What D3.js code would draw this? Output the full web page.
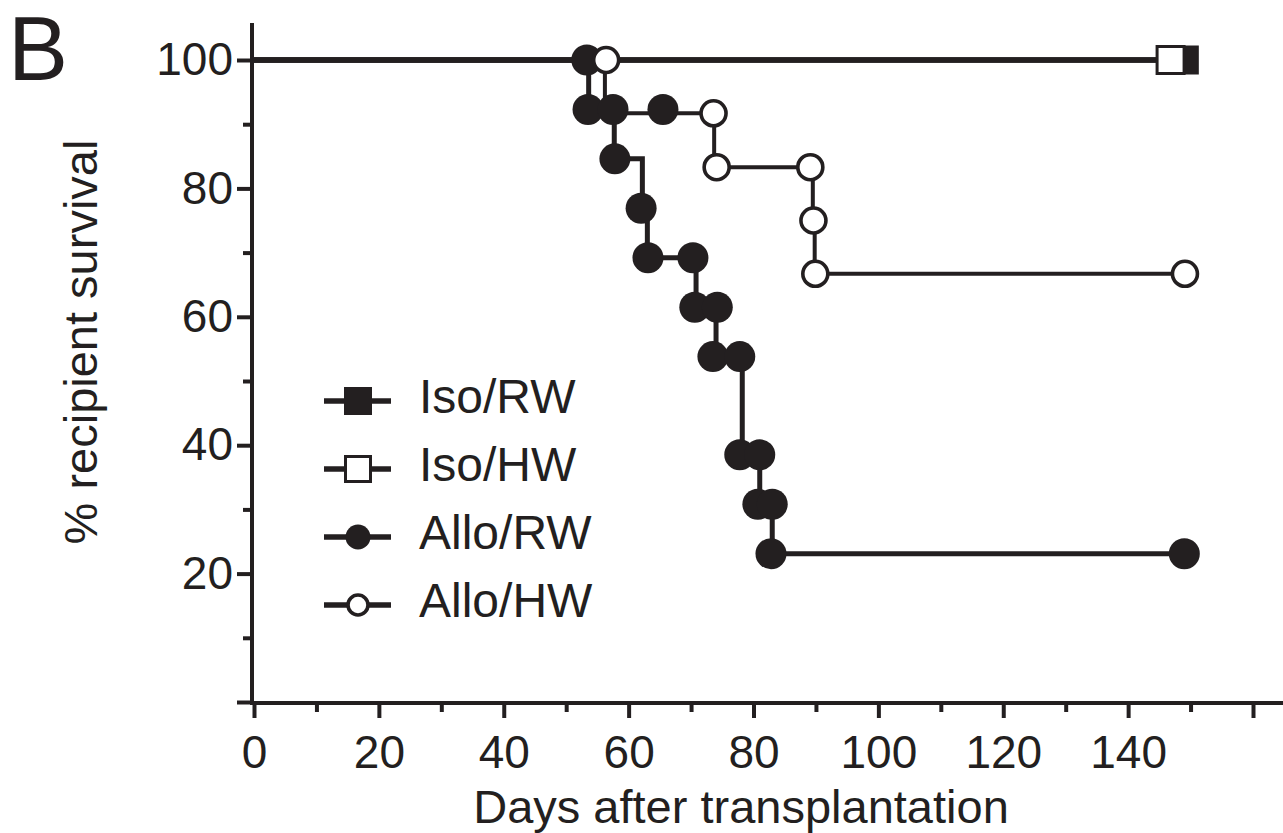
<!DOCTYPE html>
<html>
<head>
<meta charset="utf-8">
<script src="https://cdn.jsdelivr.net/npm/d3@7"></script>
<style>
  body { margin: 0; background: #fff; }
  svg text { font-family: "Liberation Sans", Arial, sans-serif; fill: #231f20; }
</style>
</head>
<body>
<div id="chart"></div>
<script>
// Kaplan-Meier steps: day each level starts at, and % survival for that level
const alloRWDays = [0, 53.6, 57.7, 62.2, 63, 70.8, 74, 78.2, 81, 83, 149];
const alloRWSurv = [100, 92.3, 84.6, 76.9, 69.2, 61.5, 53.8, 38.5, 30.8, 23.1, 23.1];
const alloHWDays = [0, 56.2, 73.7, 89.5, 89.8, 149];
const alloHWSurv = [100, 91.7, 83.3, 75, 66.7, 66.7];
const isoRWDays = [0, 149];
const isoRWSurv = [100, 100];
const isoHWDays = [0, 146.8];
const isoHWSurv = [100, 100];

// symbols as they sit on the curves
const alloRWMarkDays = [53.3, 53.5, 57.5, 65.5, 57.8, 62, 63.1, 70.3, 70.6, 74.2, 73.5, 77.8, 77.8, 81, 80.7, 83, 82.8, 149];
const alloRWMarkSurv = [100, 92.3, 92.3, 92.3, 84.6, 76.9, 69.2, 69.2, 61.5, 61.5, 53.8, 53.8, 38.5, 38.5, 30.8, 30.8, 23.1, 23.1];
const alloHWMarkDays = [56.4, 73.6, 74.1, 89.1, 89.6, 89.9, 149.1];
const alloHWMarkSurv = [100, 91.7, 83.3, 83.3, 75, 66.7, 66.7];
const isoRWMarkDays = [149];
const isoRWMarkSurv = [100];
const isoHWMarkDays = [146.8];
const isoHWMarkSurv = [100];

const legendLabels = ["Iso/RW", "Iso/HW", "Allo/RW", "Allo/HW"];
const xMajorTicks = [0, 20, 40, 60, 80, 100, 120, 140, 160];
const xMinorTicks = [10, 30, 50, 70, 90, 110, 130, 150];
const yMajorTicks = [0, 20, 40, 60, 80, 100];
const yMinorTicks = [10, 30, 50, 70, 90];

const ink = "#231f20";
const width = 1283, height = 833;

const svg = d3.select("#chart").append("svg")
  .attr("width", width)
  .attr("height", height);

const x = d3.scaleLinear().domain([0, 160]).range([254, 1253]);
const y = d3.scaleLinear().domain([0, 100]).range([702, 60]);

// series styles (same order as legend)
const series = [
  { name: "Iso/RW", days: isoRWDays, surv: isoRWSurv, mDays: isoRWMarkDays, mSurv: isoRWMarkSurv, shape: "square", filled: true, lw: 5.5 },
  { name: "Iso/HW", days: isoHWDays, surv: isoHWSurv, mDays: isoHWMarkDays, mSurv: isoHWMarkSurv, shape: "square", filled: false, lw: 5.5 },
  { name: "Allo/RW", days: alloRWDays, surv: alloRWSurv, mDays: alloRWMarkDays, mSurv: alloRWMarkSurv, shape: "circle", filled: true, lw: 5 },
  { name: "Allo/HW", days: alloHWDays, surv: alloHWSurv, mDays: alloHWMarkDays, mSurv: alloHWMarkSurv, shape: "circle", filled: false, lw: 4 },
];

// ---- axes ----
const xAxisG = svg.append("g").attr("transform", `translate(0,${y(0) + 1})`);
xAxisG.call(d3.axisBottom(x).tickValues(xMinorTicks).tickSize(9).tickFormat(""));
xAxisG.append("g").call(
  d3.axisBottom(x).tickValues(xMajorTicks).tickSize(15).tickPadding(17)
    .tickFormat((d) => (d === 160 ? "" : d))
);
xAxisG.selectAll(".domain").remove();
xAxisG.selectAll("line").attr("stroke", ink).attr("stroke-width", 4);
xAxisG.selectAll("text").attr("font-size", 46).attr("font-family", null);
xAxisG.append("line")
  .attr("x1", x(0) - 4).attr("x2", width)
  .attr("stroke", ink).attr("stroke-width", 4);

const yAxisG = svg.append("g").attr("transform", `translate(${x(0) - 2},0)`);
yAxisG.call(d3.axisLeft(y).tickValues(yMinorTicks).tickSize(9).tickFormat(""));
yAxisG.append("g").call(
  d3.axisLeft(y).tickValues(yMajorTicks).tickSize(15).tickPadding(4)
    .tickFormat((d) => (d === 0 ? "" : d))
);
yAxisG.selectAll(".domain").remove();
yAxisG.selectAll("line").attr("stroke", ink).attr("stroke-width", 4);
yAxisG.selectAll("text").attr("font-size", 46).attr("font-family", null);
yAxisG.append("line")
  .attr("y1", 23).attr("y2", y(0) + 3)
  .attr("stroke", ink).attr("stroke-width", 4);

// ---- titles ----
svg.append("text")
  .attr("x", 741).attr("y", 823)
  .attr("text-anchor", "middle")
  .attr("font-size", 47)
  .text("Days after transplantation");

svg.append("text")
  .attr("transform", "translate(97,342) rotate(-90)")
  .attr("text-anchor", "middle")
  .attr("font-size", 47)
  .text("% recipient survival");

svg.append("text")
  .attr("x", 8).attr("y", 80)
  .attr("font-size", 90)
  .text("B");

// ---- survival curves ----
const step = d3.line()
  .x((d) => x(d[0]))
  .y((d) => y(d[1]))
  .curve(d3.curveStepAfter);

series.forEach((s) => {
  svg.append("path")
    .datum(d3.zip(s.days, s.surv))
    .attr("d", step)
    .attr("fill", "none")
    .attr("stroke", ink)
    .attr("stroke-width", s.lw);
});

function drawMark(g, shape, filled, cx, cy, big) {
  if (shape === "circle") {
    const r = filled ? (big ? 15.5 : 12.5) : (big ? 12.5 : 10);
    g.append("circle")
      .attr("cx", cx).attr("cy", cy).attr("r", r)
      .attr("fill", filled ? ink : "#fff")
      .attr("stroke", ink)
      .attr("stroke-width", filled ? 0 : 3.6);
  } else {
    const side = filled ? (big ? 29 : 28) : (big ? 27 : 25);
    g.append("rect")
      .attr("x", cx - side / 2).attr("y", cy - side / 2)
      .attr("width", side).attr("height", side)
      .attr("fill", filled ? ink : "#fff")
      .attr("stroke", ink)
      .attr("stroke-width", filled ? 0 : 3);
  }
}

// markers: filled circles first, open circles over them, then squares
const markOrder = [2, 3, 0, 1];
markOrder.forEach((i) => {
  const s = series[i];
  const g = svg.append("g");
  d3.zip(s.mDays, s.mSurv).forEach((d) => {
    drawMark(g, s.shape, s.filled, x(d[0]), y(d[1]), true);
  });
});

// ---- legend ----
const legend = svg.append("g");
series.forEach((s, i) => {
  const cy = 401 + i * 68;
  legend.append("line")
    .attr("x1", 324).attr("x2", 391)
    .attr("y1", cy).attr("y2", cy)
    .attr("stroke", ink).attr("stroke-width", 5.5);
  drawMark(legend, s.shape, s.filled, 358, cy, false);
  legend.append("text")
    .attr("x", 419).attr("y", cy + 12)
    .attr("font-size", 48)
    .text(legendLabels[i]);
});
</script>
</body>
</html>
